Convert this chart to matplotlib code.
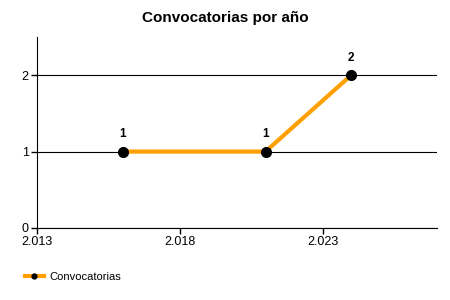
import matplotlib
matplotlib.use('Agg')
import matplotlib.pyplot as plt
from matplotlib.ticker import FuncFormatter

years = [2016, 2021, 2024]
counts = [1, 1, 2]
x_ticks = [2013, 2018, 2023]
y_ticks = [0, 1, 2]

plt.rcParams['font.family'] = ['Liberation Sans', 'DejaVu Sans']

fig = plt.figure(figsize=(4.5, 3), dpi=100)
ax = fig.add_axes([0.082, 0.24, 0.889, 0.637])

ax.plot(years, counts, color='#FFA000', lw=3, marker='o', ms=7,
        mfc='black', mec='black', label='Convocatorias', zorder=3)
for x, y in zip(years, counts):
    ax.annotate(str(y), (x, y), xytext=(0, 8), textcoords='offset points',
                ha='center', va='bottom', fontsize=8.5, fontweight='bold')

ax.set_xlim(2013, 2027)
ax.set_ylim(0, 2.5)
ax.set_xticks(x_ticks)
ax.set_yticks(y_ticks)
ax.xaxis.set_major_formatter(FuncFormatter(lambda v, p: f'{int(v):,}'.replace(',', '.')))
ax.tick_params(labelsize=9, length=4, width=1, color='black', pad=2)
ax.yaxis.grid(True, color='black', lw=0.8)
ax.set_axisbelow(True)
for s in ['top', 'right']:
    ax.spines[s].set_visible(False)

fig.text(0.5, 0.94, 'Convocatorias por año', ha='center', va='center',
         fontsize=11, fontweight='bold')

fig.legend(loc='center left', bbox_to_anchor=(0.045, 0.077), frameon=False,
           fontsize=8, handlelength=1.7, handletextpad=0.5, markerscale=0.5,
           borderaxespad=0)

fig.savefig('out.png', dpi=100)
